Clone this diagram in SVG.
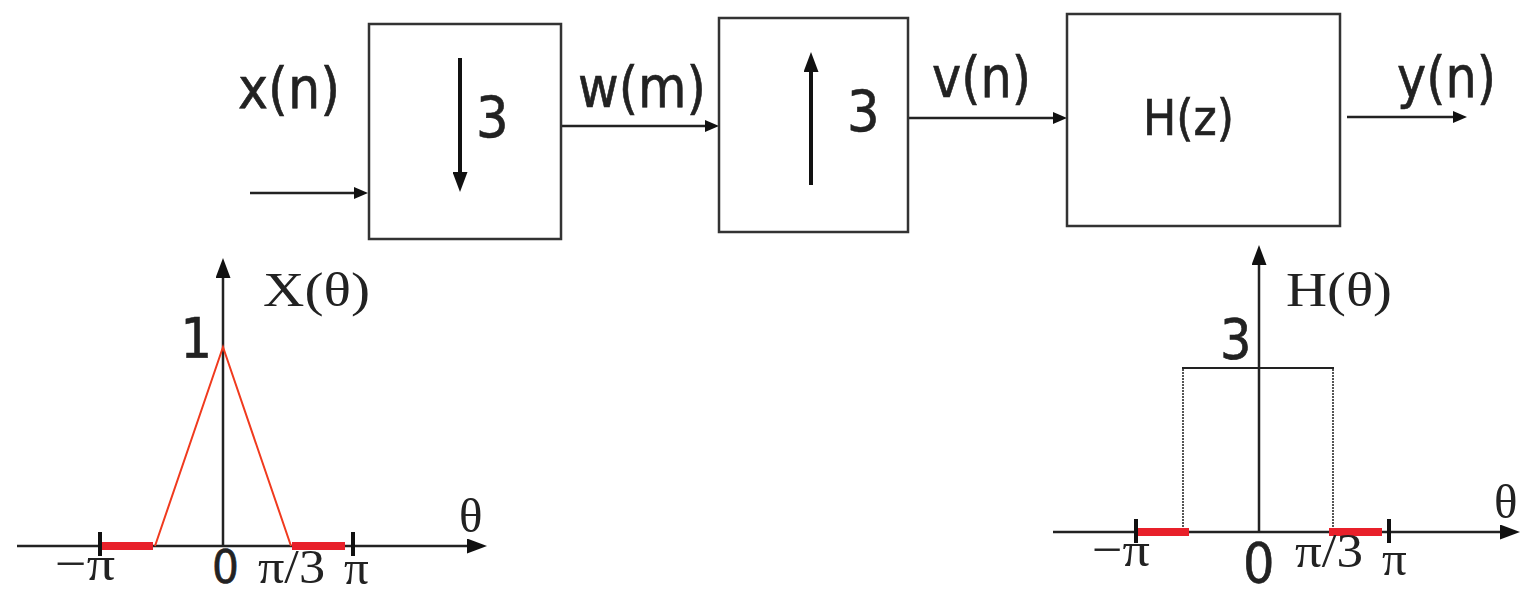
<svg xmlns="http://www.w3.org/2000/svg" width="1521" height="595" viewBox="0 0 1521 595">
  <style>
    .box { fill: #fff; stroke: #333; stroke-width: 2.5; }
    .wire { fill: none; stroke: #222; stroke-width: 2.5; }
    .rate { fill: none; stroke: #111; stroke-width: 4; }
    .axis { fill: none; stroke: #222; stroke-width: 2.5; }
    .tick { stroke: #111; stroke-width: 4; }
    .band { stroke: #e8202a; stroke-width: 8; }
    .spec { fill: none; stroke: #f03a1e; stroke-width: 2; }
    .rect { fill: none; stroke: #222; stroke-width: 2; }
    .dot { stroke: #555; stroke-width: 2; stroke-dasharray: 2 1; }
    .lbl { font-family: "DejaVu Sans Condensed", "DejaVu Sans", sans-serif; font-stretch: condensed; font-size: 57px; fill: #222; stroke: #222; stroke-width: 0.6; }
    .math { font-family: "Liberation Serif", "DejaVu Serif", serif; font-size: 49px; fill: #222; }
  </style>
  <defs>
    <!-- refX sits mid-head so the line end is hidden under the head -->
    <marker id="ah" viewBox="0 0 14 12" refX="7" refY="6" markerWidth="14" markerHeight="12" markerUnits="userSpaceOnUse" orient="auto">
      <path d="M0,0 L14,6 L0,12 z" fill="#111"/>
    </marker>
    <marker id="ah2" viewBox="0 0 20 15" refX="10" refY="7.5" markerWidth="20" markerHeight="15" markerUnits="userSpaceOnUse" orient="auto">
      <path d="M0,0 L20,7.5 L0,15 z" fill="#111"/>
    </marker>
  </defs>
  <rect width="1521" height="595" fill="#fff"/>

  <!-- signal path -->
  <g id="connectors">
    <line class="wire" x1="250" y1="193" x2="361" y2="193" marker-end="url(#ah)"/>
    <line class="wire" x1="561" y1="126" x2="712" y2="126" marker-end="url(#ah)"/>
    <line class="wire" x1="908" y1="118" x2="1060" y2="118" marker-end="url(#ah)"/>
    <line class="wire" x1="1347" y1="117" x2="1460" y2="117" marker-end="url(#ah)"/>
  </g>

  <g id="labels-signals">
    <text class="lbl" x="238" y="108" textLength="102" lengthAdjust="spacingAndGlyphs">x(n)</text>
    <text class="lbl" x="578" y="107" textLength="128" lengthAdjust="spacingAndGlyphs">w(m)</text>
    <text class="lbl" x="932" y="97" textLength="99" lengthAdjust="spacingAndGlyphs">v(n)</text>
    <text class="lbl" x="1397" y="97" textLength="99" lengthAdjust="spacingAndGlyphs">y(n)</text>
  </g>

  <!-- downsampler -->
  <g id="node-down">
    <rect class="box" x="369" y="24" width="192" height="215"/>
    <line class="rate" x1="460" y1="58" x2="460" y2="182" marker-end="url(#ah2)"/>
    <text class="lbl" x="476" y="138">3</text>
  </g>

  <!-- upsampler -->
  <g id="node-up">
    <rect class="box" x="719" y="18" width="189" height="214"/>
    <line class="rate" x1="811" y1="185" x2="811" y2="62" marker-end="url(#ah2)"/>
    <text class="lbl" x="847" y="132">3</text>
  </g>

  <!-- filter -->
  <g id="node-filter">
    <rect class="box" x="1067" y="14" width="273" height="212"/>
    <text class="lbl" x="1143" y="135" style="font-size:49px" textLength="91" lengthAdjust="spacingAndGlyphs">H(z)</text>
  </g>

  <!-- input spectrum X(theta) -->
  <g id="plot-x">
    <line class="axis" x1="17" y1="546" x2="477" y2="546" marker-end="url(#ah2)"/>
    <line class="axis" x1="223" y1="546" x2="223" y2="268" marker-end="url(#ah2)"/>
    <line class="band" x1="100" y1="546" x2="153" y2="546"/>
    <line class="band" x1="292" y1="546" x2="345" y2="546"/>
    <polyline class="spec" points="155,546 223,347 291,546"/>
    <line class="tick" x1="100" y1="532" x2="100" y2="556"/>
    <line class="tick" x1="353" y1="532" x2="353" y2="556"/>
    <text class="math" x="263" y="306" textLength="107" lengthAdjust="spacingAndGlyphs">X(θ)</text>
    <text class="lbl" x="212" y="357" text-anchor="end" style="font-size:55px">1</text>
    <text class="math" x="459" y="532">θ</text>
    <text class="math" x="55" y="580" textLength="60" lengthAdjust="spacingAndGlyphs">−π</text>
    <text class="lbl" x="212" y="583" style="font-size:47px">0</text>
    <text class="math" x="258" y="583" textLength="67" lengthAdjust="spacingAndGlyphs">π/3</text>
    <text class="math" x="344" y="584">π</text>
  </g>

  <!-- filter response H(theta) -->
  <g id="plot-h">
    <line class="axis" x1="1053" y1="532" x2="1510" y2="532" marker-end="url(#ah2)"/>
    <line class="axis" x1="1259" y1="532" x2="1259" y2="255" marker-end="url(#ah2)"/>
    <line class="dot" x1="1183" y1="369" x2="1183" y2="532"/>
    <line class="dot" x1="1333" y1="369" x2="1333" y2="532"/>
    <line class="rect" x1="1182" y1="368" x2="1334" y2="368"/>
    <line class="band" x1="1137" y1="532" x2="1189" y2="532"/>
    <line class="band" x1="1329" y1="532" x2="1382" y2="532"/>
    <line class="tick" x1="1136" y1="519" x2="1136" y2="543"/>
    <line class="tick" x1="1389" y1="519" x2="1389" y2="543"/>
    <text class="math" x="1286" y="306" textLength="106" lengthAdjust="spacingAndGlyphs">H(θ)</text>
    <text class="lbl" x="1220" y="358" style="font-size:55px">3</text>
    <text class="math" x="1494" y="518">θ</text>
    <text class="math" x="1092" y="566" textLength="58" lengthAdjust="spacingAndGlyphs">−π</text>
    <text class="lbl" x="1243" y="582" style="font-size:55px">0</text>
    <text class="math" x="1295" y="567" textLength="68" lengthAdjust="spacingAndGlyphs">π/3</text>
    <text class="math" x="1382" y="575">π</text>
  </g>
</svg>
